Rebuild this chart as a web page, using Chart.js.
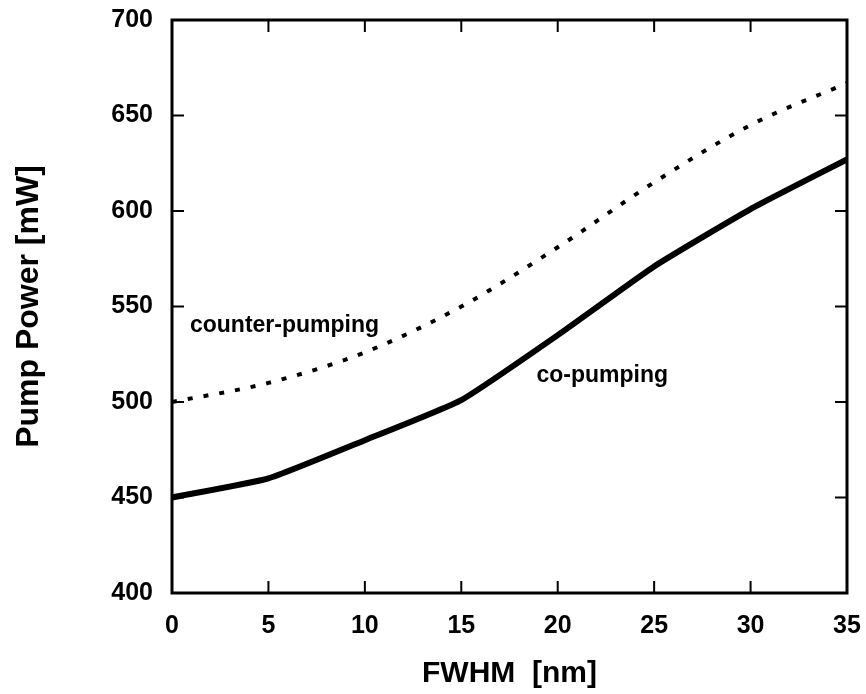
<!DOCTYPE html>
<html>
<head>
<meta charset="utf-8">
<script src="https://cdn.jsdelivr.net/npm/chart.js@4.4.1/dist/chart.umd.min.js"></script>
<style>
  html, body { margin: 0; padding: 0; background: #fff; }
  #wrap { width: 866px; height: 694px; }
</style>
</head>
<body>
<div id="wrap"><canvas id="mainChart" width="866" height="694"></canvas></div>
<script>
// FWHM values (nm)
const fwhm = [0, 5, 10, 15, 20, 25, 30, 35];
// pump power (mW)
const coPumping = [450, 460, 480, 501, 535, 571, 601, 627];
const counterPumping = [500, 510, 526, 550, 581, 615, 645, 667];

const xTicks = [0, 5, 10, 15, 20, 25, 30, 35];
const yTicks = [400, 450, 500, 550, 600, 650, 700];

const FONT = "'Liberation Sans', Arial, sans-serif";

// curve labels, placed in data units
const curveLabels = [
    { text: 'counter-pumping', x: 0.93, y: 540 },
    { text: 'co-pumping', x: 18.9, y: 514 }
];

// box frame with inward ticks on all four sides
const framePlugin = {
    id: 'frame',
    afterDatasetsDraw(chart) {
        const { ctx, chartArea: a, scales: { x, y } } = chart;
        const len = 12;
        ctx.save();
        ctx.strokeStyle = '#000';
        ctx.lineWidth = 2;
        ctx.beginPath();
        xTicks.forEach(v => {
            const px = x.getPixelForValue(v);
            ctx.moveTo(px, a.bottom); ctx.lineTo(px, a.bottom - len);
            ctx.moveTo(px, a.top); ctx.lineTo(px, a.top + len);
        });
        yTicks.forEach(v => {
            const py = y.getPixelForValue(v);
            ctx.moveTo(a.left, py); ctx.lineTo(a.left + len, py);
            ctx.moveTo(a.right, py); ctx.lineTo(a.right - len, py);
        });
        ctx.stroke();
        ctx.lineWidth = 3;
        ctx.strokeRect(a.left, a.top, a.right - a.left, a.bottom - a.top);

        ctx.fillStyle = '#000';
        ctx.font = `bold 23px ${FONT}`;
        ctx.textAlign = 'left';
        ctx.textBaseline = 'middle';
        curveLabels.forEach(l => {
            ctx.fillText(l.text, x.getPixelForValue(l.x), y.getPixelForValue(l.y));
        });
        ctx.restore();
    }
};

new Chart(document.getElementById('mainChart'), {
    type: 'line',
    data: {
        datasets: [
            {
                label: 'co-pumping',
                data: fwhm.map((f, i) => ({ x: f, y: coPumping[i] })),
                borderColor: '#000',
                borderWidth: 6,
                pointRadius: 0,
                tension: 0.15,
                fill: false
            },
            {
                label: 'counter-pumping',
                data: fwhm.map((f, i) => ({ x: f, y: counterPumping[i] })),
                borderColor: '#000',
                borderWidth: 4,
                borderDash: [5, 11],
                borderCapStyle: 'butt',
                pointRadius: 0,
                cubicInterpolationMode: 'monotone',
                fill: false
            }
        ]
    },
    options: {
        responsive: false,
        animation: false,
        layout: { padding: { top: 20, right: 19, left: 0, bottom: 0 } },
        plugins: {
            legend: { display: false },
            tooltip: { enabled: false }
        },
        scales: {
            x: {
                type: 'linear',
                min: 0, max: 35,
                afterBuildTicks: s => { s.ticks = xTicks.map(v => ({ value: v })); },
                afterFit: s => { s.height = 101; s.paddingLeft = 0; s.paddingRight = 0; },
                grid: { display: false, drawTicks: false },
                border: { display: false },
                ticks: { color: '#000', padding: 18, font: { family: FONT, size: 25, weight: 'bold' } },
                title: {
                    display: true,
                    text: 'FWHM  [nm]',
                    color: '#000',
                    padding: { top: 0, bottom: 2 },
                    font: { family: FONT, size: 30, weight: 'bold' }
                }
            },
            y: {
                min: 400, max: 700,
                afterBuildTicks: s => { s.ticks = yTicks.map(v => ({ value: v })); },
                afterFit: s => { s.width = 172; s.paddingTop = 0; s.paddingBottom = 0; },
                grid: { display: false, drawTicks: false },
                border: { display: false },
                ticks: { color: '#000', padding: 19, font: { family: FONT, size: 25, weight: 'bold' } },
                title: {
                    display: true,
                    text: 'Pump Power [mW]',
                    color: '#000',
                    padding: { top: 10, bottom: 0 },
                    font: { family: FONT, size: 32, weight: 'bold' }
                }
            }
        }
    },
    plugins: [framePlugin]
});
</script>
</body>
</html>
